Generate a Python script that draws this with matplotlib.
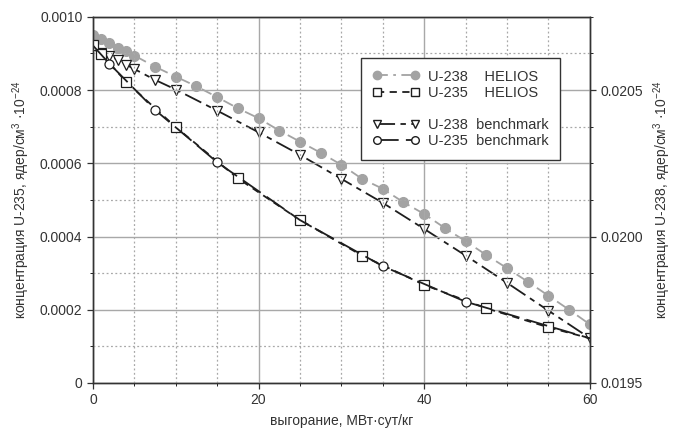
import numpy as np
import matplotlib
matplotlib.use('Agg')
import matplotlib.pyplot as plt
from matplotlib.lines import Line2D
from matplotlib.ticker import MultipleLocator, FormatStrFormatter

plt.rcParams['font.family'] = ['Liberation Sans', 'DejaVu Sans']
plt.rcParams['mathtext.fontset'] = 'custom'
plt.rcParams['mathtext.rm'] = 'Liberation Sans'
plt.rcParams['mathtext.it'] = 'Liberation Sans:italic'

# U-238 HELIOS (right axis)
u238_helios_x = [0, 1, 2, 3, 4, 5, 7.5, 10, 12.5, 15, 17.5, 20, 22.5, 25, 27.5, 30,
                 32.5, 35, 37.5, 40, 42.5, 45, 47.5, 50, 52.5, 55, 57.5, 60]
u238_helios_y = [0.020689, 0.020675, 0.020660, 0.020643, 0.020632, 0.020618, 0.020580,
                 0.020546, 0.020513, 0.020476, 0.020438, 0.020404, 0.020362, 0.020324,
                 0.020286, 0.020245, 0.020197, 0.020163, 0.020117, 0.020077, 0.020029,
                 0.019984, 0.019937, 0.019892, 0.019846, 0.019798, 0.019750, 0.019700]

# U-235 HELIOS (left axis)
u235_helios_x = [0, 1, 4, 10, 17.5, 25, 32.5, 40, 47.5, 55, 60]
u235_helios_y = [0.000922, 0.000899, 0.000823, 0.000699, 0.000559, 0.000445,
                 0.000348, 0.000268, 0.000204, 0.000152, 0.000122]

# U-238 benchmark (right axis)
u238_bench_x = [0, 1, 2, 3, 4, 5, 7.5, 10, 15, 20, 25, 30, 35, 40, 45, 50, 55, 60]
u238_bench_y = [0.020640, 0.020627, 0.020618, 0.020603, 0.020587, 0.020572, 0.020535,
                0.020502, 0.020430, 0.020356, 0.020279, 0.020197, 0.020115, 0.020026,
                0.019935, 0.019842, 0.019747, 0.019653]

# U-235 benchmark (left axis)
u235_bench_x = [0, 2, 7.5, 15, 25, 35, 45, 60]
u235_bench_y = [0.000922, 0.000872, 0.000746, 0.000603, 0.000445, 0.000319,
                0.000222, 0.000122]

fig = plt.figure(figsize=(6.78, 4.33), dpi=100)
ax = fig.add_axes([0.137, 0.1155, 0.733, 0.8455])
ax2 = ax.twinx()

ax.set_xlim(0, 60)
ax.set_ylim(0, 0.001)
ax2.set_ylim(0.0195, 0.02075)

ax.xaxis.set_major_locator(MultipleLocator(20))
ax.xaxis.set_minor_locator(MultipleLocator(5))
ax.yaxis.set_major_locator(MultipleLocator(0.0002))
ax.yaxis.set_minor_locator(MultipleLocator(0.0001))
ax.yaxis.set_major_formatter(lambda v, p: '0' if v == 0 else '%.4f' % v)
ax2.yaxis.set_major_locator(MultipleLocator(0.0005))
ax2.yaxis.set_minor_locator(MultipleLocator(0.000125))
ax2.yaxis.set_major_formatter(FormatStrFormatter('%.4f'))

ax.grid(which='major', color='#a8a8a8', linewidth=1.0, linestyle='-')
ax.grid(which='minor', color='#a8a8a8', linewidth=0.9, linestyle=(0, (1.5, 2)))
ax.set_axisbelow(True)

for a in (ax, ax2):
    a.tick_params(labelsize=10, colors='#333333', length=4, width=0.9)
    a.tick_params(which='minor', length=2.5)
    for s in a.spines.values():
        s.set_color('#333333')
        s.set_linewidth(1.0)

gray = '#a3a3a3'
dark = '#1e1e1e'

l1, = ax2.plot(u238_helios_x, u238_helios_y, color=gray, lw=1.3, dashes=(6, 3, 1.5, 3),
               marker='o', ms=7, mfc=gray, mec=gray)
l3, = ax2.plot(u238_bench_x, u238_bench_y, color=dark, lw=1.3, dashes=(10, 3, 3, 3),
               marker='v', ms=7, mfc='white', mec=dark, mew=0.9,
               markevery=list(range(1, len(u238_bench_x))))
l2, = ax.plot(u235_helios_x, u235_helios_y, color=dark, lw=1.3, dashes=(4, 3),
              marker='s', ms=7, mfc='white', mec=dark, mew=0.9,
              markevery=list(range(0, len(u235_helios_x) - 1)))
l4, = ax.plot(u235_bench_x, u235_bench_y, color=dark, lw=1.3, dashes=(12, 4),
              marker='o', ms=6.5, mfc='white', mec=dark, mew=0.9,
              markevery=[1, 2, 3, 5, 6])
ax.set_zorder(ax2.get_zorder() + 1)
ax.patch.set_visible(False)

h1 = Line2D([], [], color=gray, lw=1.3, dashes=(6, 3, 1.5, 3), marker='o', ms=6, mfc=gray, mec=gray)
h2 = Line2D([], [], color=dark, lw=1.3, dashes=(4, 3), marker='s', ms=6, mfc='white', mec=dark)
h0 = Line2D([], [], color='none')
h3 = Line2D([], [], color=dark, lw=1.3, dashes=(10, 3, 3, 3), marker='v', ms=6, mfc='white', mec=dark)
h4 = Line2D([], [], color=dark, lw=1.3, dashes=(12, 4), marker='o', ms=5.5, mfc='white', mec=dark)
leg = ax.legend([h1, h2, h0, h3, h4],
                ['U-238    HELIOS', 'U-235    HELIOS', ' ', 'U-238  benchmark', 'U-235  benchmark'],
                loc='upper left', bbox_to_anchor=(0.539, 0.888), borderaxespad=0,
                fontsize=10.5, handlelength=3.2, handletextpad=0.6, numpoints=2,
                labelspacing=0.15, borderpad=0.8,
                fancybox=False, framealpha=1, edgecolor='#333333')
leg.get_frame().set_linewidth(1.0)
for t in leg.get_texts():
    t.set_color('#333333')

ax.set_ylabel('концентрация U-235, ядер/см$^3$ ·10$^{-24}$', fontsize=10, color='#333333', labelpad=6)
ax2.set_ylabel('концентрация U-238, ядер/см$^3$ ·10$^{-24}$', fontsize=10, color='#333333', labelpad=6)
ax.set_xlabel('выгорание, МВт·сут/кг', fontsize=10, color='#333333', labelpad=5)

fig.savefig('out.png', dpi=100)
